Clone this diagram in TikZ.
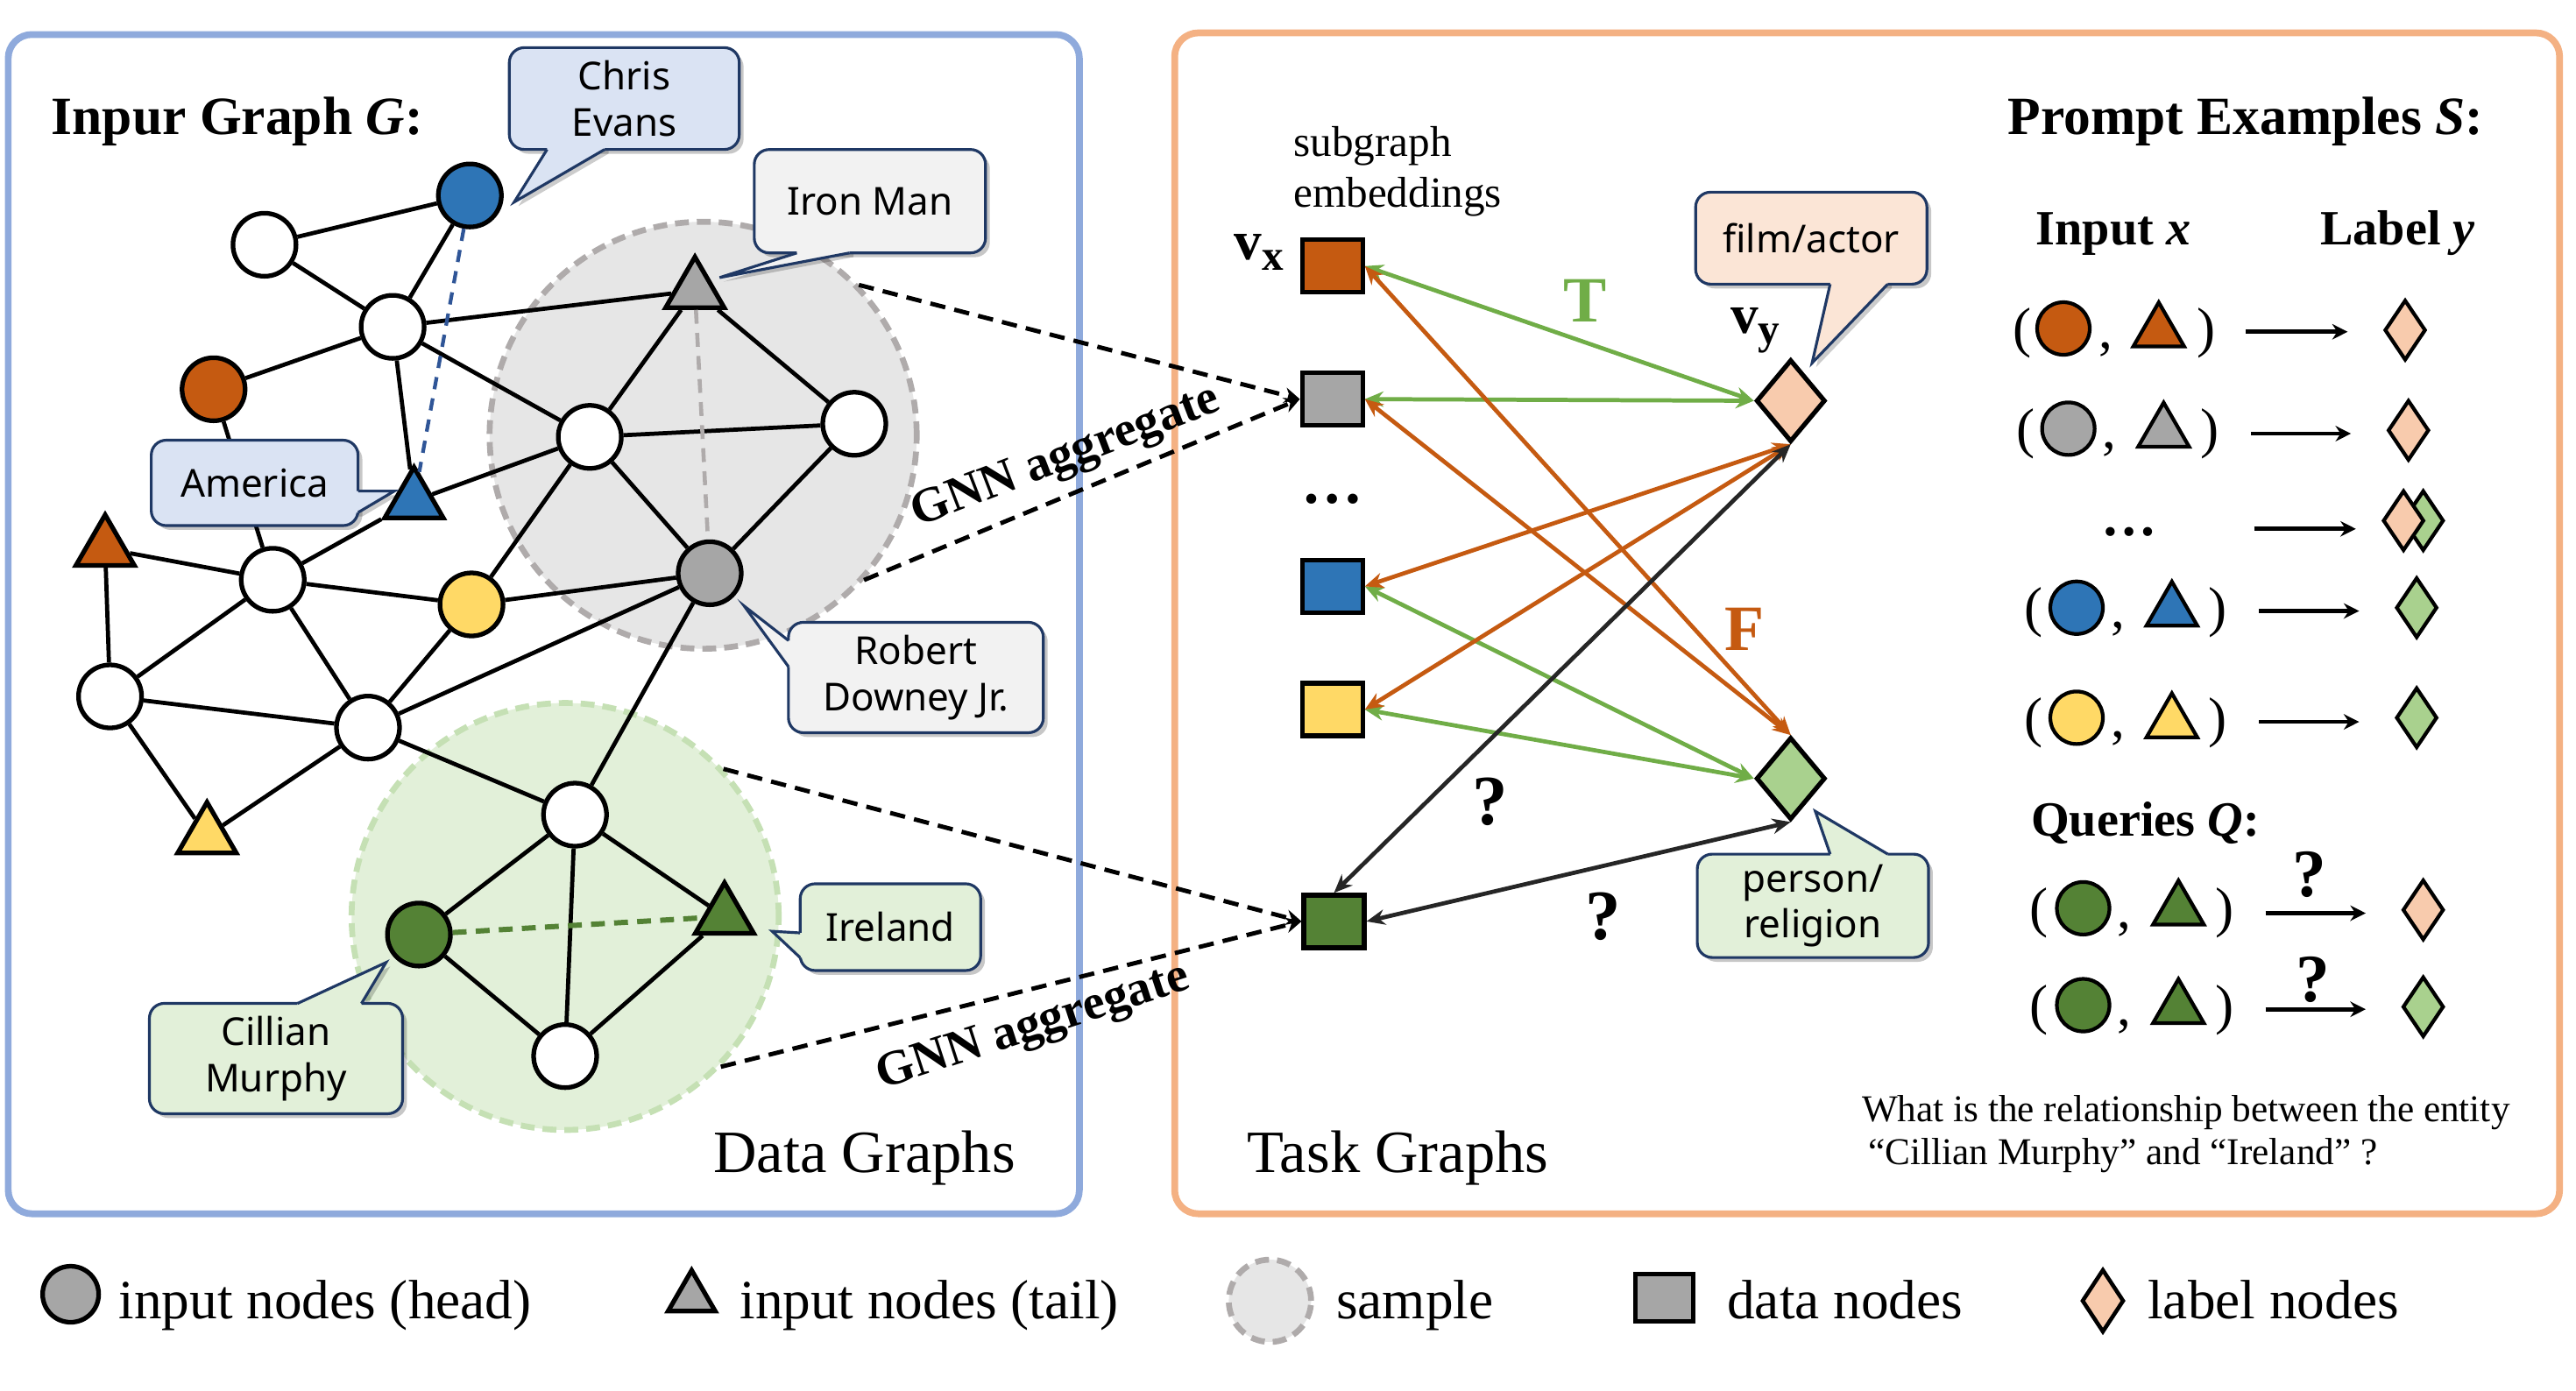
\documentclass[tikz,border=0pt]{standalone}
\usepackage{fontspec}
\setmainfont{Liberation Serif}
\newfontfamily\cfont{Noto Sans}
\usetikzlibrary{shapes.geometric,arrows.meta,shadows}
\definecolor{cBlue}{HTML}{2E75B6}
\definecolor{cOrange}{HTML}{C55A11}
\definecolor{cYellow}{HTML}{FFD966}
\definecolor{cGray}{HTML}{A6A6A6}
\definecolor{cDGreen}{HTML}{548235}
\definecolor{cPeach}{HTML}{F8CBAD}
\definecolor{cLGreen}{HTML}{A9D18E}
\definecolor{fBlue}{HTML}{DAE3F3}
\definecolor{fGray}{HTML}{F2F2F2}
\definecolor{fGreen}{HTML}{E2F0D9}
\definecolor{fPeach}{HTML}{FBE5D6}
\definecolor{navy}{HTML}{1F3864}
\definecolor{frameBlue}{HTML}{8FAADC}
\definecolor{frameOrange}{HTML}{F4B183}
\definecolor{sampGray}{HTML}{AFABAB}
\definecolor{sampFill}{HTML}{E6E6E6}
\definecolor{sampGreen}{HTML}{C5E0B4}
\definecolor{Tgreen}{HTML}{70AD47}
\definecolor{darkc}{HTML}{262626}
\definecolor{dBlue}{HTML}{2F5597}
\newcommand\ptrshadow[5]{\fill[black,opacity=.2,shift={(2.5,2.5)}] #4--#1--#2--#3--#5--cycle;}
\newcommand\ptrdraw[6]{\fill[#6] #4--#1--#2--#3--#5--cycle; \draw[navy,line width=0.9pt,line join=miter] #1--#2--#3;}
\begin{document}
\begin{tikzpicture}[x=0.01875cm,y=-0.01875cm,
 gn/.style={circle,draw=black,line width=1.5pt,minimum size=0.72cm,inner sep=0pt},
 wn/.style={gn,fill=white},
 gt/.style={regular polygon,regular polygon sides=3,draw=black,line width=1.5pt,minimum size=0.77cm,inner sep=0pt},
 lnk/.style={line width=1.35pt,draw=black},
 samp/.style={circle,minimum size=4.875cm,line width=1.9pt,dash pattern=on 4.5pt off 2.6pt,inner sep=0pt},
 cbox/.style={draw=navy,line width=0.9pt,rounded corners=0.17cm,inner sep=0pt,align=center,
   font=\cfont\fontsize{12.5}{15}\selectfont,
   drop shadow={fill=black,opacity=0.22,shadow xshift=1.4pt,shadow yshift=-1.4pt}},
 sq/.style={rectangle,draw=black,line width=1.5pt,minimum width=0.69cm,minimum height=0.6cm,inner sep=0pt},
 dm/.style={diamond,draw=black,line width=1.5pt,minimum width=0.79cm,minimum height=0.94cm,inner sep=0pt},
 gnn/.style={draw=black,line width=1.4pt,dash pattern=on 5pt off 3pt,arrows={-Stealth[length=5pt,width=5pt]}},
 gnnt/.style={font=\fontsize{16}{18}\selectfont\bfseries,inner sep=0pt},
 biT/.style={draw=Tgreen,line width=1.35pt,arrows={Stealth[length=6pt,width=5pt]-Stealth[length=6pt,width=5pt]}},
 biF/.style={draw=cOrange,line width=1.35pt,arrows={Stealth[length=6pt,width=5pt]-Stealth[length=6pt,width=5pt]}},
 biQ/.style={draw=darkc,line width=1.35pt,arrows={Stealth[length=6pt,width=5pt]-Stealth[length=6pt,width=5pt]}},
 pc/.style={circle,draw=black,line width=1.2pt,minimum size=0.6cm,inner sep=0pt},
 pt/.style={regular polygon,regular polygon sides=3,draw=black,line width=1.2pt,minimum size=0.67cm,inner sep=0pt},
 pd/.style={diamond,draw=black,line width=1.2pt,minimum width=0.47cm,minimum height=0.69cm,inner sep=0pt},
 par/.style={font=\fontsize{18}{20}\selectfont,inner sep=0pt},
 cma/.style={font=\fontsize{18}{20}\selectfont,inner sep=0pt,anchor=base},
 rarr/.style={draw=black,line width=1.3pt,arrows={-Stealth[length=5pt,width=5pt]}},
 qm/.style={font=\fontsize{22}{24}\selectfont\bfseries,inner sep=0pt,anchor=base},
 lt/.style={font=\fontsize{18}{20}\selectfont,inner sep=0pt,anchor=base west},
 bigt/.style={font=\fontsize{19.5}{22}\selectfont,inner sep=0pt,anchor=base west},
 hd/.style={font=\fontsize{17.5}{20}\selectfont\bfseries,inner sep=0pt,anchor=base west},
 sh/.style={font=\fontsize{16}{18}\selectfont\bfseries,inner sep=0pt,anchor=base west}
]
\useasboundingbox (0,0) rectangle (1568,846.4);

% frames
\draw[frameBlue,line width=2.2pt,rounded corners=0.27cm,fill=white] (5,21) rectangle (657,739);
\draw[frameOrange,line width=2.2pt,rounded corners=0.27cm,fill=white] (715,20) rectangle (1558,739);

% samples
\node[samp,draw=sampGray,fill=sampFill] (gs) at (428,265) {};
\node[samp,draw=sampGreen,fill=fGreen] (grs) at (344,558) {};

% graph nodes
\node[wn] (A) at (161,149) {};
\node[gn,fill=cBlue] (B) at (286,119) {};
\node[wn] (C) at (239,199) {};
\node[gn,fill=cOrange] (D) at (130,237) {};
\node[gt,fill=cBlue] (E) at (252,305) {};
\node[gt,fill=cGray] (F) at (423,177) {};
\node[wn] (G) at (359,266) {};
\node[wn] (H) at (520,258) {};
\node[gn,fill=cGray] (I) at (432,349) {};
\node[gt,fill=cOrange] (J) at (64,334) {};
\node[wn] (K) at (166,353) {};
\node[gn,fill=cYellow] (L) at (287,368) {};
\node[wn] (M) at (67,424) {};
\node[wn] (N) at (224,443) {};
\node[gt,fill=cYellow] (O) at (126,509) {};
\node[wn] (P) at (350,496) {};
\node[gn,fill=cDGreen] (Q) at (255,569) {};
\node[gt,fill=cDGreen] (R) at (441,558) {};
\node[wn] (S) at (344,643) {};

% edges
\draw[lnk] (A)--(B) (A)--(C) (B)--(C) (C)--(F) (C)--(D) (C)--(G) (C)--(E)
 (D)--(K) (E)--(K) (E)--(G) (J)--(K) (J)--(M) (K)--(L) (K)--(M) (K)--(N)
 (L)--(G) (L)--(I) (L)--(N) (M)--(N) (M)--(O) (N)--(O) (N)--(I) (N)--(P)
 (I)--(P) (F)--(G) (F)--(H) (G)--(H) (G)--(I) (H)--(I)
 (P)--(Q) (P)--(S) (P)--(R) (Q)--(S) (R)--(S);
\draw[dBlue,line width=1.2pt,dash pattern=on 4pt off 3pt] (B)--(E);
\draw[sampGray,line width=1.3pt,dash pattern=on 4.5pt off 3pt] (F)--(I);
\draw[cDGreen,line width=1.7pt,dash pattern=on 4.5pt off 3pt] (Q)--(R);

% task graph nodes
\node[sq,fill=cOrange] (sqO) at (811,162) {};
\node[sq,fill=cGray] (sqG) at (811,243) {};
\node[sq,fill=cBlue] (sqB) at (811,357) {};
\node[sq,fill=cYellow] (sqY) at (811,432) {};
\node[sq,fill=cDGreen] (sqD) at (812,561) {};
\node[font=\fontsize{20}{22}\selectfont\bfseries,inner sep=0pt] (dots1) at (811,304) {…};
\node[dm,fill=cPeach] (dP) at (1090,244) {};
\node[dm,fill=cLGreen] (dL) at (1090,474) {};

% GNN aggregate
\draw[gnn] (gs.44) -- (sqG.west);
\draw[gnn] (gs.-42) -- (sqG.west);
\draw[gnn] (grs.43) -- (sqD.west);
\draw[gnn] (grs.-44) -- (sqD.west);
\node[gnnt,rotate=21] (gnn1) at (649,279) {GNN aggregate};
\node[gnnt,rotate=18] (gnn2) at (629,626) {GNN aggregate};

% callouts left
\ptrshadow{(333,91)}{(313,123)}{(368,91)}{(333,87)}{(368,87)}
\node[cbox,fill=fBlue,minimum width=2.625cm,minimum height=1.1625cm] (chris) at (380,60) {Chris\\Evans};
\ptrdraw{(333,91)}{(313,123)}{(368,91)}{(333,87)}{(368,87)}{fBlue}

\ptrshadow{(485,154)}{(438,169)}{(517,154)}{(485,150)}{(517,150)}
\node[cbox,fill=fGray,minimum width=2.64cm,minimum height=1.18cm] (iron) at (529.5,122.5) {Iron Man};
\ptrdraw{(485,154)}{(438,169)}{(517,154)}{(485,150)}{(517,150)}{fGray}

\ptrshadow{(218,299)}{(240,299)}{(218,312)}{(214,299)}{(214,312)}
\node[cbox,fill=fBlue,minimum width=2.36cm,minimum height=0.975cm] (amer) at (155,294) {America};
\ptrdraw{(218,299)}{(240,299)}{(218,312)}{(214,299)}{(214,312)}{fBlue}

\ptrshadow{(480,390)}{(453,369)}{(480,406)}{(484,390)}{(484,406)}
\node[cbox,fill=fGray,minimum width=2.91cm,minimum height=1.26cm] (rdj) at (557.5,412.5) {Robert\\Downey Jr.};
\ptrdraw{(480,390)}{(453,369)}{(480,406)}{(484,390)}{(484,406)}{fGray}

\ptrshadow{(487,568)}{(470,567)}{(487,583)}{(491,568)}{(491,583)}
\node[cbox,fill=fGreen,minimum width=2.06cm,minimum height=0.99cm] (irl) at (542,564.5) {Ireland};
\ptrdraw{(487,568)}{(470,567)}{(487,583)}{(491,568)}{(491,583)}{fGreen}

\ptrshadow{(181,611)}{(235,586)}{(220,611)}{(181,615)}{(220,615)}
\node[cbox,fill=fGreen,minimum width=2.89cm,minimum height=1.26cm] (cmur) at (168,644.5) {Cillian\\Murphy};
\ptrdraw{(181,611)}{(235,586)}{(220,611)}{(181,615)}{(220,615)}{fGreen}

% callouts right
\ptrshadow{(1114,173)}{(1103,221)}{(1149,173)}{(1114,169)}{(1149,169)}
\node[cbox,fill=fPeach,minimum width=2.64cm,minimum height=1.05cm] (film) at (1102.5,145) {film/actor};
\ptrdraw{(1114,173)}{(1103,221)}{(1149,173)}{(1114,169)}{(1149,169)}{fPeach}

\ptrshadow{(1114,520)}{(1105,494)}{(1149,520)}{(1114,524)}{(1149,524)}
\node[cbox,fill=fGreen,minimum width=2.64cm,minimum height=1.18cm] (pers) at (1103.5,551.5) {person/\\religion};
\ptrdraw{(1114,520)}{(1105,494)}{(1149,520)}{(1114,524)}{(1149,524)}{fGreen}

% task arrows
\draw[biT] (sqO.east) -- (dP.west);
\draw[biT] (sqG.east) -- (dP.west);
\draw[biT] (sqB.east) -- (dL.west);
\draw[biT] (sqY.east) -- (dL.west);
\draw[biF] (sqO.east) -- (dL.north);
\draw[biF] (sqG.east) -- (dL.north);
\draw[biF] (sqB.east) -- (dP.south);
\draw[biF] (sqY.east) -- (dP.south);
\draw[biQ] (sqD.north) -- (dP.south);
\draw[biQ] (sqD.east) -- (dL.south);

\node[font=\fontsize{21}{23}\selectfont\bfseries,text=Tgreen,inner sep=0pt,anchor=base] (lT) at (965,196) {T};
\node[font=\fontsize{21}{23}\selectfont\bfseries,text=cOrange,inner sep=0pt,anchor=base] (lF) at (1062,396) {F};
\node[qm,font=\fontsize{23}{25}\selectfont\bfseries] (q1) at (907,502) {?};
\node[qm,font=\fontsize{23}{25}\selectfont\bfseries] (q2) at (976,572) {?};

\node[inner sep=0pt,anchor=base west] (vx) at (751,158) {\fontsize{18}{20}\selectfont\bfseries v\raisebox{-3.5pt}{\fontsize{14}{16}\selectfont x}};
\node[inner sep=0pt,anchor=base west] (vy) at (1053,203) {\fontsize{18}{20}\selectfont\bfseries v\raisebox{-3.5pt}{\fontsize{14}{16}\selectfont y}};
\node[inner sep=0pt,anchor=base west,font=\fontsize{14}{16}\selectfont] (sg1) at (787,95) {subgraph};
\node[inner sep=0pt,anchor=base west,font=\fontsize{14}{16}\selectfont] (sg2) at (787,126) {embeddings};

% titles
\node[hd] (t1) at (31,82) {Inpur Graph \textit{G}:};
\node[hd] (t2) at (1222,82) {Prompt Examples \textit{S}:};
\node[sh] (t3) at (1239,149) {Input \textit{x}};
\node[sh] (t4) at (1412,149) {Label \textit{y}};
\node[sh] (t5) at (1236,509) {Queries \textit{Q}:};
\node[bigt] (dg) at (434,714) {Data Graphs};
\node[bigt] (tg) at (759,714) {Task Graphs};
\node[inner sep=0pt,anchor=base west,font=\fontsize{12.3}{15}\selectfont] (qq1) at (1133,683) {What is the relationship between the entity};
\node[inner sep=0pt,anchor=base west,font=\fontsize{12.3}{15}\selectfont] (qq2) at (1137,709) {“Cillian Murphy” and “Ireland” ?};

% prompt rows
\node[par] (r1l) at (1231,203) {(};
\node[pc,fill=cOrange] (r1c) at (1256,200) {};
\node[cma] (r1k) at (1282,212) {,};
\node[pt,fill=cOrange] (r1t) at (1314,202) {};
\node[par] (r1r) at (1343,203) {)};
\coordinate (r1a) at (1367,202); \coordinate (r1b) at (1429,202);
\draw[rarr] (r1a)--(r1b);
\node[pd,fill=cPeach] (r1d) at (1464,201) {};

\node[par] (r2l) at (1233,264) {(};
\node[pc,fill=cGray] (r2c) at (1259,261) {};
\node[cma] (r2k) at (1284,273) {,};
\node[pt,fill=cGray] (r2t) at (1317,263) {};
\node[par] (r2r) at (1345,264) {)};
\coordinate (r2a) at (1370,264); \coordinate (r2b) at (1431,264);
\draw[rarr] (r2a)--(r2b);
\node[pd,fill=cPeach] (r2d) at (1466,262) {};

\node[font=\fontsize{18}{20}\selectfont\bfseries,inner sep=0pt] (r3dots) at (1296,324) {…};
\coordinate (r3a) at (1372,322); \coordinate (r3b) at (1434,322);
\draw[rarr] (r3a)--(r3b);
\node[pd,fill=cLGreen] (r3g) at (1475,317) {};
\node[pd,fill=cPeach] (r3p) at (1463,317) {};

\node[par] (r4l) at (1238,373) {(};
\node[pc,fill=cBlue] (r4c) at (1264,370) {};
\node[cma] (r4k) at (1289,382) {,};
\node[pt,fill=cBlue] (r4t) at (1322,372) {};
\node[par] (r4r) at (1350,373) {)};
\coordinate (r4a) at (1375,372); \coordinate (r4b) at (1436,372);
\draw[rarr] (r4a)--(r4b);
\node[pd,fill=cLGreen] (r4d) at (1471,370) {};

\node[par] (r5l) at (1238,440) {(};
\node[pc,fill=cYellow] (r5c) at (1264,437) {};
\node[cma] (r5k) at (1289,449) {,};
\node[pt,fill=cYellow] (r5t) at (1322,440) {};
\node[par] (r5r) at (1350,440) {)};
\coordinate (r5a) at (1375,439.5); \coordinate (r5b) at (1436,439.5);
\draw[rarr] (r5a)--(r5b);
\node[pd,fill=cLGreen] (r5d) at (1471,437) {};

\node[par] (q1l) at (1241,556) {(};
\node[pc,fill=cDGreen] (q1c) at (1268,553) {};
\node[cma] (q1k) at (1293,565) {,};
\node[pt,fill=cDGreen] (q1t) at (1326,554) {};
\node[par] (q1r) at (1354,556) {)};
\coordinate (q1a) at (1379,556); \coordinate (q1b) at (1440,556);
\draw[rarr] (q1a)--(q1b);
\node[qm] (q1q) at (1406,546) {?};
\node[pd,fill=cPeach] (q1d) at (1475,554) {};

\node[par] (q2l) at (1241,615) {(};
\node[pc,fill=cDGreen] (q2c) at (1268,612) {};
\node[cma] (q2k) at (1293,624) {,};
\node[pt,fill=cDGreen] (q2t) at (1326,614) {};
\node[par] (q2r) at (1354,615) {)};
\coordinate (q2a) at (1379,614.5); \coordinate (q2b) at (1440,614.5);
\draw[rarr] (q2a)--(q2b);
\node[qm] (q2q) at (1408,610) {?};
\node[pd,fill=cLGreen] (q2d) at (1475,613) {};

% legend
\node[gn,fill=cGray,minimum size=0.64cm] (lg1) at (43,788) {};
\node[lt] (lg1t) at (72,803) {input nodes (head)};
\node[gt,fill=cGray,minimum size=0.62cm] (lg2) at (421,790) {};
\node[lt] (lg2t) at (450,803) {input nodes (tail)};
\node[samp,draw=sampGray,fill=sampFill,minimum size=0.94cm] (lg3) at (773,792) {};
\node[lt] (lg3t) at (813,803) {sample};
\node[sq,fill=cGray,minimum width=0.66cm,minimum height=0.54cm] (lg4) at (1013,790) {};
\node[lt] (lg4t) at (1051,803) {data nodes};
\node[pd,fill=cPeach,line width=1.3pt,minimum width=0.48cm,minimum height=0.72cm] (lg5) at (1280,792) {};
\node[lt] (lg5t) at (1307,803) {label nodes};
\end{tikzpicture}
\end{document}
